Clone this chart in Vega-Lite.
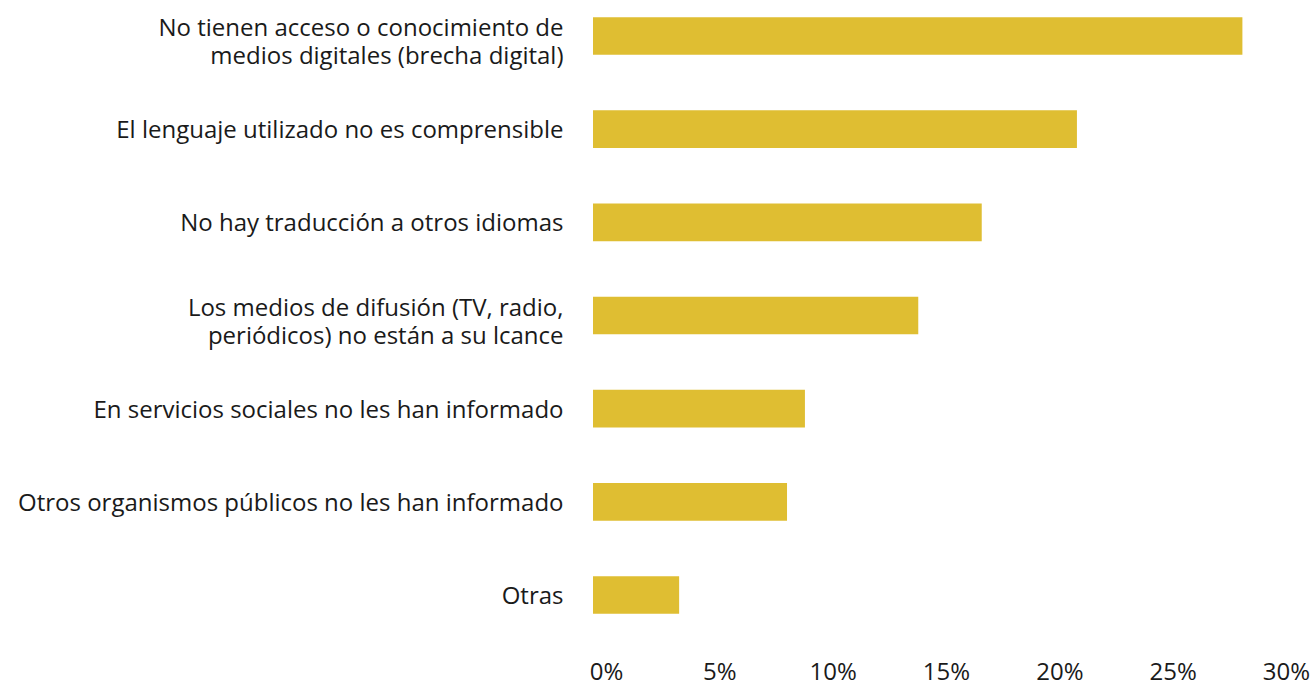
{
  "$schema": "https://vega.github.io/schema/vega-lite/v6.json",
  "width": 680,
  "height": 631,
  "autosize": {"type": "none"},
  "padding": {"left": 593, "top": 0, "right": 39, "bottom": 51},
  "background": "white",
  "config": {
    "view": {"stroke": null},
    "font": "Open Sans",
    "axis": {"labelFont": "Open Sans", "labelFontSize": 24, "labelColor": "#1a1a1a", "domain": false, "ticks": false, "grid": false, "title": null}
  },
  "data": {
    "values": [
      {"motivo": "No tienen acceso o conocimiento de|medios digitales (brecha digital)", "pct": 0.2865},
      {"motivo": "El lenguaje utilizado no es comprensible", "pct": 0.2135},
      {"motivo": "No hay traducción a otros idiomas", "pct": 0.1715},
      {"motivo": "Los medios de difusión (TV, radio,|periódicos) no están a su lcance", "pct": 0.1435},
      {"motivo": "En servicios sociales no les han informado", "pct": 0.0935},
      {"motivo": "Otros organismos públicos no les han informado", "pct": 0.0856},
      {"motivo": "Otras", "pct": 0.038}
    ]
  },
  "mark": {"type": "bar", "color": "#DFBE32"},
  "encoding": {
    "y": {
      "field": "motivo",
      "type": "nominal",
      "sort": null,
      "scale": {"paddingInner": 0.595, "paddingOuter": 0.184},
      "axis": {
        "labelExpr": "split(datum.value, '|')",
        "labelPadding": 30,
        "labelLineHeight": 28,
        "labelLimit": 0,
        "labelOffset": {"condition": {"test": "indexof(datum.value, '|') >= 0", "value": -7}, "value": 2}
      }
    },
    "x": {
      "field": "pct",
      "type": "quantitative",
      "scale": {"domain": [0, 0.3], "nice": false},
      "axis": {"values": [0, 0.05, 0.1, 0.15, 0.2, 0.25, 0.3], "format": ".0%", "labelPadding": 29, "labelOffset": 13, "labelFlush": false}
    }
  }
}
